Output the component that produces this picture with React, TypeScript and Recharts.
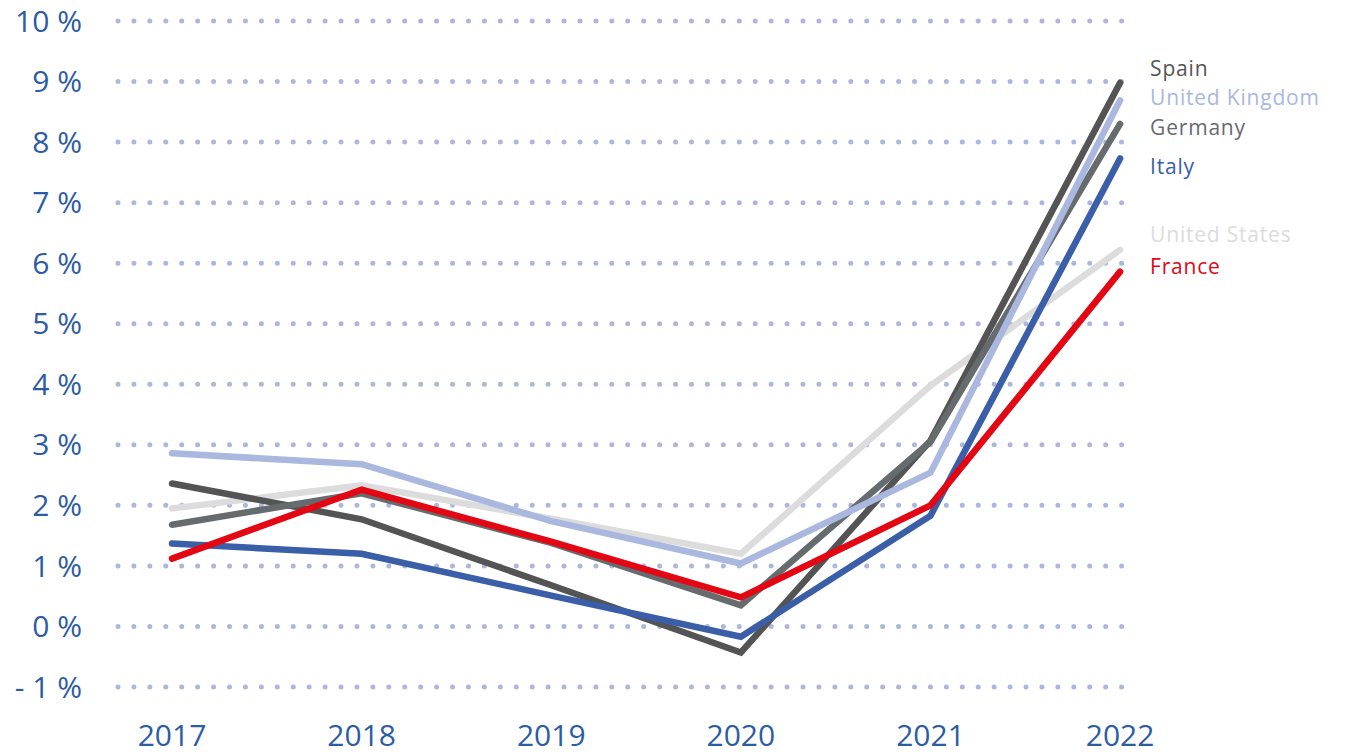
import React from 'react';
import { LineChart, Line, XAxis, YAxis, CartesianGrid, LabelList } from 'recharts';

const years = [2017, 2018, 2019, 2020, 2021, 2022];
const spain = [2.36, 1.77, 0.68, -0.43, 3.07, 8.98];
const unitedKingdom = [2.86, 2.68, 1.74, 1.04, 2.54, 8.69];
const germany = [1.68, 2.2, 1.38, 0.35, 3.05, 8.3];
const italy = [1.37, 1.2, 0.51, -0.17, 1.83, 7.73];
const unitedStates = [1.95, 2.33, 1.78, 1.2, 3.98, 6.22];
const france = [1.12, 2.26, 1.4, 0.48, 2.0, 5.86];
const yTicks = [-1, 0, 1, 2, 3, 4, 5, 6, 7, 8, 9, 10];

const chartData = years.map((year, i) => ({
  year,
  Spain: spain[i],
  'United Kingdom': unitedKingdom[i],
  Germany: germany[i],
  Italy: italy[i],
  'United States': unitedStates[i],
  France: france[i]
}));

// draw order: first is at the bottom
const SERIES = [
  { key: 'United States', color: '#dcdcdc', labelDy: -15 },
  { key: 'Spain', color: '#545454', labelDy: -14 },
  { key: 'Germany', color: '#666b6e', labelDy: 4 },
  { key: 'United Kingdom', color: '#aab8e0', labelDy: -3 },
  { key: 'Italy', color: '#3a5ea8', labelDy: 8 },
  { key: 'France', color: '#e30613', labelDy: -5 }
];

const AXIS_COLOR = '#2c5ca3';
const FONT = '"Open Sans", "Noto Sans", sans-serif';

const makeEndLabel = (text: string, color: string, dy: number) => (props: any) => {
  const { x, y, index } = props;
  if (index !== years.length - 1) return null;
  return (
    <text
      x={x + 30}
      y={y + dy}
      dy="0.35em"
      fill={color}
      fontSize={21}
      fontFamily={FONT}
      letterSpacing={0.8}
    >
      {text}
    </text>
  );
};

const formatPct = (v: number) => (v < 0 ? `- ${Math.abs(v)} %` : `${v} %`);

export default function App() {
  return (
    <div style={{ position: 'absolute', left: 0, top: 0, background: '#fff' }}>
      <LineChart
        width={1346}
        height={754}
        data={chartData}
        margin={{ top: 21, right: 224, bottom: 0, left: 0 }}
      >
        <CartesianGrid
          vertical={false}
          stroke="#aab8e0"
          strokeWidth={5}
          strokeDasharray="0 15.93"
          strokeLinecap="round"
        />
        <XAxis
          dataKey="year"
          type="number"
          domain={[2016.715, 2022.01]}
          ticks={years}
          axisLine={false}
          tickLine={false}
          tickSize={0}
          tickMargin={38}
          height={67}
          tick={{ fill: AXIS_COLOR, fontSize: 30, fontFamily: FONT }}
        />
        <YAxis
          domain={[-1, 10]}
          ticks={yTicks}
          axisLine={false}
          tickLine={false}
          tickSize={0}
          tickMargin={36}
          width={118}
          tickFormatter={formatPct}
          tick={{ fill: AXIS_COLOR, fontSize: 30, fontFamily: FONT }}
        />
        {SERIES.map(s => (
          <Line
            key={s.key}
            type="linear"
            dataKey={s.key}
            stroke={s.color}
            strokeWidth={6.5}
            strokeLinecap="round"
            strokeLinejoin="miter"
            dot={false}
            activeDot={false}
            isAnimationActive={false}
          >
            <LabelList dataKey={s.key} content={makeEndLabel(s.key, s.color, s.labelDy)} />
          </Line>
        ))}
      </LineChart>
    </div>
  );
}
